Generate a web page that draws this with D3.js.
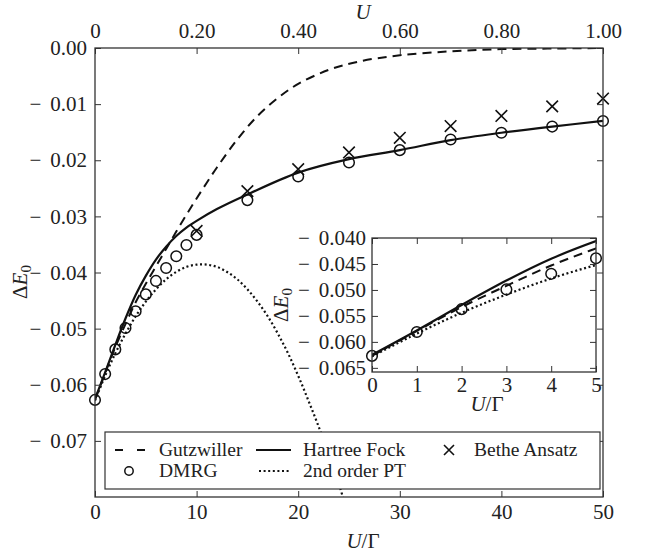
<!DOCTYPE html>
<html>
<head>
<meta charset="utf-8">
<script src="https://cdn.jsdelivr.net/npm/d3@7"></script>
<style>
body { margin: 0; background: #fff; }
svg text { font-family: "Liberation Serif", "DejaVu Serif", "Times New Roman", serif; fill: #222; }
</style>
</head>
<body>
<div class="chart"></div>
<script>
// valores (U/Gamma, Delta E0)
const dmrgU = [0, 1, 2, 3, 4, 5, 6, 7, 8, 9, 10, 15, 20, 25, 30, 35, 40, 45, 50];
const dmrgE = [-0.0627, -0.0581, -0.0537, -0.0499, -0.0469, -0.0439, -0.0415, -0.0392, -0.0371, -0.0351,
               -0.0333, -0.0271, -0.0229, -0.0204, -0.0182, -0.0163, -0.0151, -0.0140, -0.0130];

const betheU = [10, 15, 20, 25, 30, 35, 40, 45, 50];
const betheE = [-0.0326, -0.0255, -0.0216, -0.0186, -0.0160, -0.0139, -0.0121, -0.0104, -0.0090];

const hfU = [0, 1, 2, 3, 4, 5, 6, 7, 8, 9, 10, 12, 15, 20, 25, 30, 35, 40, 45, 50];
const hfE = [-0.0625, -0.0578, -0.0529, -0.0482, -0.0440, -0.0406, -0.0377, -0.0354, -0.0335, -0.0320,
             -0.0308, -0.0287, -0.0261, -0.0222, -0.0198, -0.0182, -0.0164, -0.0151, -0.0140, -0.0130];

const gzU = [0, 1, 2, 3, 4, 5, 6, 7, 8, 9, 10, 11, 12, 14, 16, 18, 20, 23, 26, 30, 35, 40, 45, 50];
const gzE = [-0.0627, -0.0579, -0.0533, -0.0492, -0.0453, -0.0420, -0.0389, -0.0358, -0.0327, -0.0297,
             -0.0268, -0.0240, -0.0213, -0.0163, -0.0121, -0.0089, -0.0064, -0.0039, -0.0024, -0.0013,
             -0.0006, -0.0002, -0.0001, 0];

const ptU = [0, 1, 2, 3, 4, 5, 6, 7, 8, 9, 10, 11, 12, 13, 14, 15, 16, 17, 18, 19, 20, 21, 22, 23, 24, 25];
const ptE = [-0.0628, -0.0584, -0.0544, -0.0509, -0.0478, -0.0452, -0.0430, -0.0412, -0.0399, -0.0390,
             -0.0386, -0.0386, -0.0390, -0.0399, -0.0412, -0.0430, -0.0452, -0.0478, -0.0509, -0.0544,
             -0.0584, -0.0628, -0.0674, -0.0724, -0.0777, -0.0836];

const xTicks = [0, 10, 20, 30, 40, 50];
const topTicks = [0, 0.2, 0.4, 0.6, 0.8, 1.0];
const topLabels = ["0", "0.20", "0.40", "0.60", "0.80", "1.00"];
const yTicks = [0, -0.01, -0.02, -0.03, -0.04, -0.05, -0.06, -0.07];
const insetXTicks = [0, 1, 2, 3, 4, 5];
const insetYTicks = [-0.040, -0.045, -0.050, -0.055, -0.060, -0.065];

const legendItems = ["Gutzwiller", "DMRG", "Hartree Fock", "2nd order PT", "Bethe Ansatz"];

const width = 654;
const height = 558;
const ink = "#111";

const svg = d3.select("div.chart")
    .append("svg")
    .attr("width", width)
    .attr("height", height)
    .attr("font-size", 21);

svg.append("rect").attr("width", width).attr("height", height).attr("fill", "#fff");

// caixa principal: x 95..603, y 48..497
const x = d3.scaleLinear().domain([0, 50]).range([95, 603]);
const xTop = d3.scaleLinear().domain([0, 1]).range([95, 603]);
const y = d3.scaleLinear().domain([-0.080, 0]).range([497, 48]);

// inset
const ix = d3.scaleLinear().domain([0, 5]).range([372, 596]);
const iy = d3.scaleLinear().domain([-0.0658, -0.040]).range([372, 238]);

const defs = svg.append("defs");
defs.append("clipPath").attr("id", "clipMain")
    .append("rect").attr("x", 95).attr("y", 48).attr("width", 508).attr("height", 449);
defs.append("clipPath").attr("id", "clipInset")
    .append("rect").attr("x", 372).attr("y", 238).attr("width", 224).attr("height", 134);

function zip(a, b) { return a.map(function(v, i) { return [v, b[i]]; }); }

function drawSeries(g, sx, sy, clipId) {
    const line = d3.line()
        .x(function(d) { return sx(d[0]); })
        .y(function(d) { return sy(d[1]); })
        .curve(d3.curveCatmullRom.alpha(0.5));

    const lines = g.append("g").attr("clip-path", "url(#" + clipId + ")");
    lines.append("path").attr("d", line(zip(gzU, gzE)))
        .attr("fill", "none").attr("stroke", ink).attr("stroke-width", 2)
        .attr("stroke-dasharray", "9,6");
    lines.append("path").attr("d", line(zip(ptU, ptE)))
        .attr("fill", "none").attr("stroke", ink).attr("stroke-width", 2.2)
        .attr("stroke-dasharray", "2,2.6");
    lines.append("path").attr("d", line(zip(hfU, hfE)))
        .attr("fill", "none").attr("stroke", ink).attr("stroke-width", 2.2);

    const dom = sx.domain();
    const pts = zip(dmrgU, dmrgE).filter(function(d) { return d[0] >= dom[0] && d[0] <= dom[1]; });
    g.append("g").selectAll("circle")
        .data(pts)
        .enter()
        .append("circle")
        .attr("cx", function(d) { return sx(d[0]); })
        .attr("cy", function(d) { return sy(d[1]); })
        .attr("r", 5.3)
        .attr("fill", "none")
        .attr("stroke", ink)
        .attr("stroke-width", 1.5);

    const bpts = zip(betheU, betheE).filter(function(d) { return d[0] >= dom[0] && d[0] <= dom[1]; });
    const s = 5.8;
    g.append("g").selectAll("path")
        .data(bpts)
        .enter()
        .append("path")
        .attr("d", function(d) {
            const cx = sx(d[0]), cy = sy(d[1]);
            return "M" + (cx - s) + "," + (cy - s) + "L" + (cx + s) + "," + (cy + s) +
                   "M" + (cx - s) + "," + (cy + s) + "L" + (cx + s) + "," + (cy - s);
        })
        .attr("stroke", ink)
        .attr("stroke-width", 1.6);
}

// rótulo com sinal de menos separado, como no LaTeX
function minusLabel(sel, n) {
    sel.each(function(d) {
        const t = d3.select(this);
        if (d === 0 && n === 2) { t.text("0.00"); return; }
        t.text(null);
        t.append("tspan").text("\u2212");
        t.append("tspan").attr("dx", 9).text(d3.format("." + n + "f")(Math.abs(d)));
    });
}

function styleAxis(g) {
    g.attr("font-family", null).attr("font-size", null);
    g.select(".domain").remove();
    g.selectAll(".tick line").attr("stroke", "#333").attr("stroke-width", 1);
    g.selectAll(".tick text").attr("fill", "#222");
}

// gráfico principal
const main = svg.append("g");
drawSeries(main, x, y, "clipMain");

main.append("g").attr("transform", "translate(0,497)")
    .call(d3.axisBottom(x).tickValues(xTicks).tickSize(-6).tickPadding(7).tickFormat(d3.format("d")))
    .call(styleAxis);
main.append("g").attr("transform", "translate(0,48)")
    .call(d3.axisTop(xTop).tickValues(topTicks).tickSize(-6).tickPadding(10)
        .tickFormat(function(d, i) { return topLabels[i]; }))
    .call(styleAxis);
main.append("g").attr("transform", "translate(95,0)")
    .call(d3.axisLeft(y).tickValues(yTicks).tickSize(-6).tickPadding(8))
    .call(styleAxis)
    .selectAll(".tick text").call(minusLabel, 2);
main.append("g").attr("transform", "translate(603,0)")
    .call(d3.axisRight(y).tickValues(yTicks).tickSize(-6).tickFormat(""))
    .call(styleAxis);

main.append("rect")
    .attr("x", 95).attr("y", 48).attr("width", 508).attr("height", 449)
    .attr("fill", "none").attr("stroke", "#333").attr("stroke-width", 1.3);

// inset
const inset = svg.append("g");
inset.append("rect")
    .attr("x", 372).attr("y", 238).attr("width", 224).attr("height", 134)
    .attr("fill", "#fff");
drawSeries(inset, ix, iy, "clipInset");

inset.append("g").attr("transform", "translate(0,372)")
    .call(d3.axisBottom(ix).tickValues(insetXTicks).tickSize(-6).tickPadding(5).tickFormat(d3.format("d")))
    .call(styleAxis);
inset.append("g").attr("transform", "translate(0,238)")
    .call(d3.axisTop(ix).tickValues(insetXTicks).tickSize(-6).tickFormat(""))
    .call(styleAxis);
inset.append("g").attr("transform", "translate(372,0)")
    .call(d3.axisLeft(iy).tickValues(insetYTicks).tickSize(-6).tickPadding(6))
    .call(styleAxis)
    .selectAll(".tick text").call(minusLabel, 3);
inset.append("g").attr("transform", "translate(596,0)")
    .call(d3.axisRight(iy).tickValues(insetYTicks).tickSize(-6).tickFormat(""))
    .call(styleAxis);
inset.append("rect")
    .attr("x", 372).attr("y", 238).attr("width", 224).attr("height", 134)
    .attr("fill", "none").attr("stroke", "#333").attr("stroke-width", 1.3);

// rótulos dos eixos
function ulabel(g, cx, cy) {
    const t = g.append("text").attr("x", cx).attr("y", cy).attr("text-anchor", "middle");
    t.append("tspan").attr("font-style", "italic").text("U");
    t.append("tspan").text("/\u0393");
}
function elabel(g, cx, cy) {
    const t = g.append("text")
        .attr("transform", "translate(" + cx + "," + cy + ") rotate(-90)")
        .attr("text-anchor", "middle");
    t.append("tspan").text("\u0394");
    t.append("tspan").attr("font-style", "italic").text("E");
    t.append("tspan").attr("font-size", 15).attr("dy", 4).text("0");
}

ulabel(svg, 363, 548);
svg.append("text").attr("x", 363).attr("y", 19).attr("text-anchor", "middle")
    .attr("font-style", "italic").text("U");
elabel(svg, 27, 282);
ulabel(svg, 487, 411);
elabel(svg, 288, 305);

// legenda
const legend = svg.append("g");
legend.append("rect")
    .attr("x", 105).attr("y", 432).attr("width", 495).attr("height", 57)
    .attr("fill", "#fff").attr("stroke", "#333").attr("stroke-width", 1.2);

const row1 = 450, row2 = 471;
legend.append("line").attr("x1", 115).attr("x2", 145).attr("y1", row1).attr("y2", row1)
    .attr("stroke", ink).attr("stroke-width", 2).attr("stroke-dasharray", "8,14");
legend.append("circle").attr("cx", 129).attr("cy", row2).attr("r", 4.2)
    .attr("fill", "none").attr("stroke", ink).attr("stroke-width", 1.5);
legend.append("line").attr("x1", 256).attr("x2", 291).attr("y1", row1).attr("y2", row1)
    .attr("stroke", ink).attr("stroke-width", 2.2);
legend.append("line").attr("x1", 259).attr("x2", 290).attr("y1", row2).attr("y2", row2)
    .attr("stroke", ink).attr("stroke-width", 2.2).attr("stroke-dasharray", "2,2.6");
legend.append("path")
    .attr("d", "M444," + (row1 - 5) + "L454," + (row1 + 5) + "M444," + (row1 + 5) + "L454," + (row1 - 5))
    .attr("stroke", ink).attr("stroke-width", 1.6);

const legendPos = [[159, row1], [159, row2], [303, row1], [303, row2], [474, row1]];
legend.selectAll("text.lt")
    .data(legendItems)
    .enter()
    .append("text")
    .attr("class", "lt")
    .attr("font-size", 19.5)
    .attr("x", function(d, i) { return legendPos[i][0]; })
    .attr("y", function(d, i) { return legendPos[i][1] + 6; })
    .text(function(d) { return d; });
</script>
</body>
</html>
